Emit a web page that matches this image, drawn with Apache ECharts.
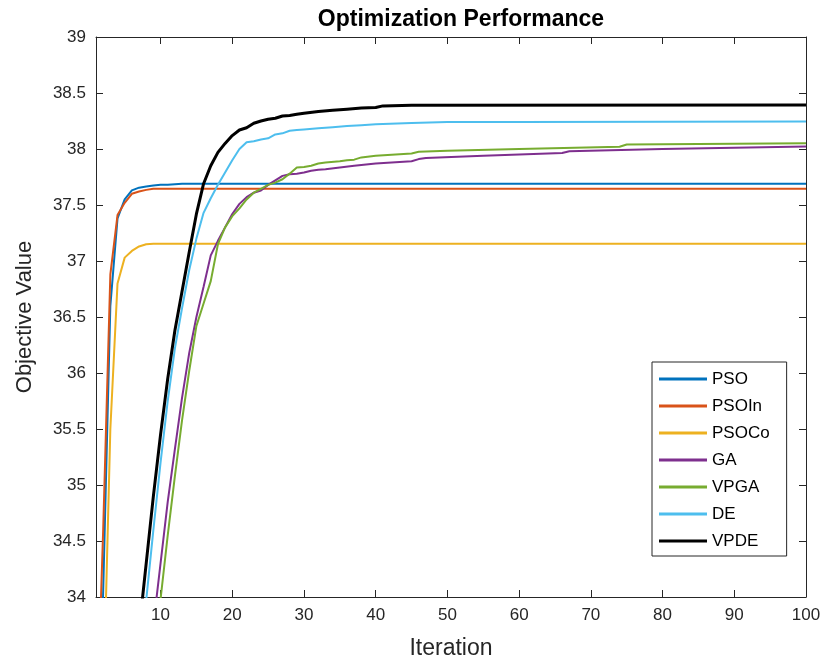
<!DOCTYPE html>
<html>
<head>
<meta charset="utf-8">
<script src="https://cdn.jsdelivr.net/npm/echarts@6/dist/echarts.min.js"></script>
<style>
html,body{margin:0;padding:0;background:#fff;}
#chart{width:825px;height:666px;}
</style>
</head>
<body>
<div id="chart"></div>
<script>
// Series data: [iteration, objective value]
const PSO = [[1,31.5],[2,34.05],[3,36.6],[4,37.38],[5,37.55],[6,37.63],[7,37.655],[8,37.665],[9,37.675],[10,37.68],[11,37.68],[12,37.685],[13,37.69],[100,37.69]];
const PSOIn = [[1,32.6],[2,34.6],[3,36.88],[4,37.41],[5,37.52],[6,37.6],[7,37.62],[8,37.635],[9,37.645],[100,37.645]];
const PSOCo = [[1,30.5],[2,33.0],[3,35.5],[4,36.8],[5,37.03],[6,37.09],[7,37.13],[8,37.15],[9,37.155],[100,37.155]];
const GA = [[9,33.75],[10,34.3],[11,34.85],[12,35.32],[13,35.78],[14,36.18],[15,36.5],[16,36.77],[17,37.05],[18,37.18],[19,37.3],[20,37.42],[21,37.51],[22,37.57],[23,37.61],[24,37.63],[25,37.68],[26,37.72],[27,37.76],[28,37.775],[29,37.78],[30,37.79],[31,37.805],[32,37.815],[33,37.82],[35,37.835],[37,37.85],[40,37.87],[45,37.89],[46,37.91],[47,37.92],[55,37.94],[66,37.965],[67,37.98],[80,38.0],[100,38.022]];
const VPGA = [[10,33.98],[11,34.55],[12,35.08],[13,35.58],[14,36.02],[15,36.42],[16,36.62],[17,36.82],[18,37.15],[19,37.3],[20,37.4],[21,37.47],[22,37.55],[23,37.61],[24,37.645],[25,37.68],[26,37.7],[27,37.73],[28,37.78],[29,37.835],[30,37.84],[31,37.85],[32,37.87],[33,37.88],[35,37.89],[36,37.9],[37,37.905],[38,37.925],[40,37.94],[45,37.96],[46,37.975],[50,37.985],[60,38.0],[74,38.02],[75,38.04],[100,38.052]];
const DE = [[7,33.4],[8,33.97],[9,34.6],[10,35.2],[11,35.75],[12,36.22],[13,36.58],[14,36.92],[15,37.2],[16,37.43],[17,37.56],[18,37.68],[19,37.79],[20,37.9],[21,38.0],[22,38.06],[23,38.07],[24,38.085],[25,38.095],[26,38.13],[27,38.14],[28,38.163],[29,38.17],[30,38.175],[32,38.185],[34,38.195],[36,38.205],[38,38.213],[40,38.22],[45,38.232],[50,38.24],[60,38.242],[100,38.245]];
const VPDE = [[7,33.7],[8,34.3],[9,34.9],[10,35.45],[11,35.95],[12,36.38],[13,36.73],[14,37.08],[15,37.42],[16,37.69],[17,37.85],[18,37.97],[19,38.05],[20,38.12],[21,38.17],[22,38.19],[23,38.23],[24,38.25],[25,38.265],[26,38.275],[27,38.295],[28,38.3],[29,38.31],[30,38.32],[32,38.335],[34,38.345],[36,38.355],[38,38.365],[40,38.37],[41,38.385],[45,38.39],[100,38.392]];

const seriesNames = ['PSO','PSOIn','PSOCo','GA','VPGA','DE','VPDE'];
const seriesData = [PSO, PSOIn, PSOCo, GA, VPGA, DE, VPDE];
const seriesColors = ['#0072BD','#D95319','#EDB120','#7E2F8E','#77AC30','#4DBEEE','#000000'];
const xTicks = [10,20,30,40,50,60,70,80,90,100];

const FONT = '"Liberation Sans", Arial, Helvetica, sans-serif';
const AX = '#262626';

const chart = echarts.init(document.getElementById('chart'), null, {renderer:'canvas'});
const axisCommon = {
  axisLine:{show:true, onZero:false, lineStyle:{color:AX, width:1}},
  splitLine:{show:false}
};
chart.setOption({
  animation:false,
  backgroundColor:'#fff',
  title:{
    text:'Optimization Performance',
    left:456, top:3, textAlign:'center',
    textStyle:{fontFamily:FONT, fontSize:23, fontWeight:'bold', color:'#000'}
  },
  grid:{left:96, top:37, width:710, height:560, containLabel:false},
  legend:{
    data:seriesNames,
    orient:'vertical',
    left:652, top:362,
    icon:'rect', itemWidth:48, itemHeight:3, itemGap:7,
    padding:[7,17,5,7],
    borderColor:AX, borderWidth:1, backgroundColor:'#fff',
    textStyle:{fontFamily:FONT, fontSize:17, lineHeight:20, color:'#000'}
  },
  xAxis:[
    Object.assign({
      type:'value', min:1, max:100, position:'bottom',
      axisTick:{show:true, inside:true, length:7, customValues:xTicks, lineStyle:{color:AX}},
      axisLabel:{show:true, customValues:xTicks, color:AX, fontFamily:FONT, fontSize:17, margin:10},
      name:'Iteration', nameLocation:'middle', nameGap:40,
      nameTextStyle:{fontFamily:FONT, fontSize:23, color:AX}
    }, axisCommon),
    Object.assign({
      type:'value', min:1, max:100, position:'top',
      axisTick:{show:true, inside:true, length:7, customValues:xTicks, lineStyle:{color:AX}},
      axisLabel:{show:false}
    }, axisCommon)
  ],
  yAxis:[
    Object.assign({
      type:'value', min:34, max:39, interval:0.5, position:'left',
      axisTick:{show:true, inside:true, length:7, lineStyle:{color:AX}},
      axisLabel:{show:true, color:AX, fontFamily:FONT, fontSize:17, margin:10},
      name:'Objective Value', nameLocation:'middle', nameGap:60,
      nameTextStyle:{fontFamily:FONT, fontSize:22, color:AX}
    }, axisCommon),
    Object.assign({
      type:'value', min:34, max:39, interval:0.5, position:'right',
      axisTick:{show:true, inside:true, length:7, lineStyle:{color:AX}},
      axisLabel:{show:false}
    }, axisCommon)
  ],
  series: seriesNames.map((n,i)=>({
    name:n, type:'line', data:seriesData[i],
    xAxisIndex:0, yAxisIndex:0,
    showSymbol:false, symbol:'none', clip:true,
    color:seriesColors[i],
    lineStyle:{color:seriesColors[i], width: n==='VPDE'?3:2},
    emphasis:{disabled:true}
  }))
});
</script>
</body>
</html>
